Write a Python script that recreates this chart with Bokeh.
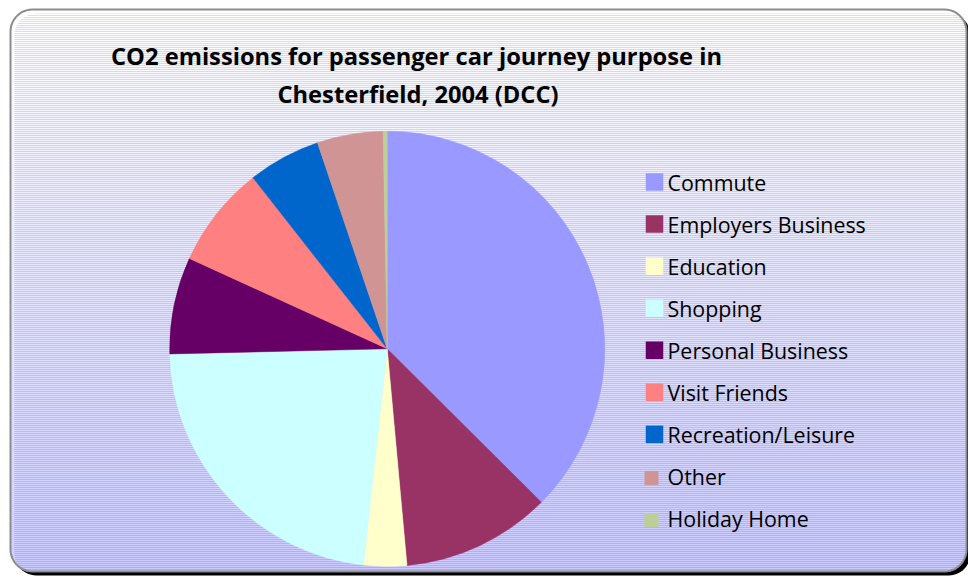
import numpy as np
from bokeh.plotting import figure
from bokeh.models import ColumnDataSource, Range1d
from bokeh.core.properties import value
from bokeh.embed import file_html
from bokeh.resources import INLINE

# ---- data ----
categories = ["Commute", "Employers Business", "Education", "Shopping",
              "Personal Business", "Visit Friends", "Recreation/Leisure",
              "Other", "Holiday Home"]
shares = [37.5, 11.1, 3.2, 22.9, 7.2, 7.6, 5.4, 4.9, 0.3]
colors = ["#9999FF", "#993366", "#FFFFCC", "#CCFFFF", "#660066",
          "#FF8080", "#0066CC", "#D09494", "#BBCF96"]
title_lines = ["CO2 emissions for passenger car journey purpose in",
               "Chesterfield, 2004 (DCC)"]

W, H = 968, 578
p = figure(width=W, height=H, output_backend="svg", toolbar_location=None,
           x_range=Range1d(0, W), y_range=Range1d(0, H),
           min_border=0, outline_line_color=None,
           background_fill_color="white", border_fill_color="white")
p.axis.visible = False
p.grid.visible = False


def sy(y):  # screen-y to data y
    return H - y


def sx(x):
    return x


# ---- frame geometry ----
L, R = sx(10), sx(966)
T, B = sy(9), sy(571)
rad = 22.0


def rounded(l, r, b, t, rr, n=12):
    xs, ys = [], []
    corners = [(r - rr, t - rr, 0, 90), (l + rr, t - rr, 90, 180),
               (l + rr, b + rr, 180, 270), (r - rr, b + rr, 270, 360)]
    for cx, cy, a0, a1 in corners:
        for a in np.linspace(np.radians(a0), np.radians(a1), n):
            xs.append(cx + rr * np.cos(a))
            ys.append(cy + rr * np.sin(a))
    xs.append(xs[0])
    ys.append(ys[0])
    return xs, ys


# shadow
shx, shy = rounded(L + 4, R + 4, B - 4, T - 4, rad)
p.patch(shx, shy, fill_color="black", line_color=None)

# gradient strips
top_c = np.array([255, 255, 255])
bot_c = np.array([202, 202, 255])
step = 2.0
ys_ = np.arange(B, T, step)
lefts, rights, bots, tops, fills = [], [], [], [], []
for y0 in ys_:
    yc = y0 + step / 2
    d = min(yc - B, T - yc)
    inset = 0.0
    if d < rad:
        inset = rad - np.sqrt(max(rad ** 2 - (rad - d) ** 2, 0))
    t = (yc - B) / (T - B)
    c = bot_c + (top_c - bot_c) * t
    lefts.append(L + inset)
    rights.append(R - inset)
    bots.append(y0)
    tops.append(min(y0 + step + 0.3, T))
    fills.append("#%02x%02x%02x" % tuple(int(round(v)) for v in c))
p.quad(left=lefts, right=rights, bottom=bots, top=tops,
       fill_color=fills, line_color=None)

bx, by = rounded(L, R, B, T, rad)
p.line(bx, by, line_color="#8C8C8C", line_width=2)

# ---- pie ----
vals = np.array(shares, dtype=float)
frac = vals / vals.sum()
cum = np.concatenate([[0], np.cumsum(frac)])
start = np.pi / 2 - 2 * np.pi * cum[:-1]
end = np.pi / 2 - 2 * np.pi * cum[1:]
src = ColumnDataSource(dict(start=start, end=end, color=colors, cat=categories))
cx, cy, pr = sx(386.7), sy(348.3), 217.5
p.wedge(x=cx, y=cy, radius=pr, start_angle="start", end_angle="end",
        direction="clock", fill_color="color", line_color="color",
        line_width=0.5, source=src)

# ---- title ----
p.text(x=[sx(416), sx(417.5)], y=[sy(55), sy(93)], text=title_lines,
       text_font=value("Open Sans"), text_font_style="bold",
       text_font_size="23.7px", text_align="center",
       text_baseline="middle", text_color="black")

# ---- legend ----
n = len(categories)
item_mid = [sy(181.5 + 42.06 * i) for i in range(n)]
mark_size = [17.5] * 7 + [14, 14]
mark_x = [sx(654)] * 7 + [sx(651), sx(651)]
mark_y = [m + (0 if i < 7 else -1.5) for i, m in enumerate(item_mid)]
p.scatter(x=mark_x, y=mark_y, size=mark_size, marker="square",
          fill_color=colors, line_color=None)
p.text(x=[sx(667)] * n, y=item_mid, text=categories,
       text_font=value("Open Sans"), text_font_size="21.4px",
       text_align="left", text_baseline="middle", text_color="black")

open("out.html", "w").write(file_html(p, INLINE))
